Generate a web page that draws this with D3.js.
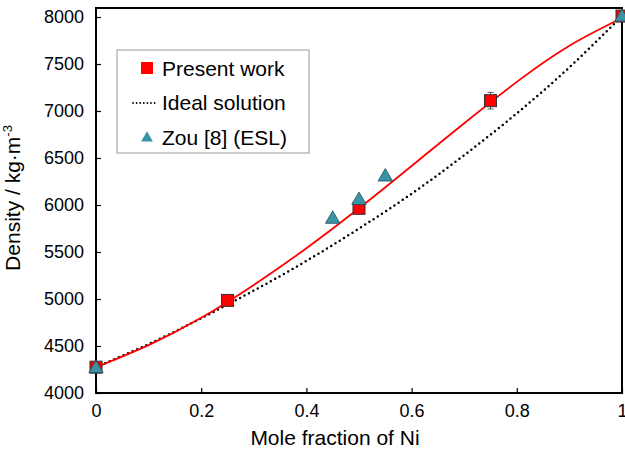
<!DOCTYPE html>
<meta charset="utf-8">
<script src="https://d3js.org/d3.v7.min.js"></script>
<style>
  body { margin: 0; background: #fff; }
  text { font-family: "Liberation Sans", Arial, sans-serif; }
</style>
<div id="my_dataviz"></div>
<script>

  // measured points (present work)
  var presentX = [0, 0.25, 0.5, 0.75, 1];
  var presentY = [4275, 4985, 5965, 7110, 8010];
  var presentErr = [20, 40, 60, 88, 40];

  // fitted curve through present work
  var fitX = [0, 0.1, 0.2, 0.3, 0.4, 0.5, 0.6, 0.7, 0.8, 0.9, 1];
  var fitY = [4275, 4510, 4800, 5150, 5540, 5965, 6415, 6870, 7310, 7695, 7990];

  // ideal solution (dotted)
  var idealX = [0, 0.1, 0.2, 0.3, 0.4, 0.5, 0.6, 0.7, 0.8, 0.9, 1];
  var idealY = [4275, 4520, 4795, 5090, 5405, 5750, 6120, 6530, 6975, 7465, 8010];

  // Zou [8] (ESL)
  var zouX = [0, 0.45, 0.5, 0.55, 1];
  var zouY = [4270, 5860, 6060, 6310, 8010];

  var xTicks = [0, 0.2, 0.4, 0.6, 0.8, 1];
  var yTicks = [4000, 4500, 5000, 5500, 6000, 6500, 7000, 7500, 8000];

  var W = 625, H = 450;
  var margin = { top: 8, right: 2, bottom: 57, left: 96 },
    width = W - margin.left - margin.right,
    height = H - margin.top - margin.bottom;

  var svg = d3.select("#my_dataviz")
    .append("svg")
    .attr("width", W)
    .attr("height", H);

  var g = svg.append("g")
    .attr("transform", "translate(" + margin.left + "," + margin.top + ")");

  var x = d3.scaleLinear().domain([0, 1]).range([0, 526]);
  // 8000 sits about 9px below the top of the frame
  var y = d3.scaleLinear().domain([4000, 8000]).range([height, height - 376]);

  // axes with inward ticks
  var xAxis = g.append("g")
    .attr("transform", "translate(0," + height + ")")
    .call(d3.axisBottom(x).tickValues(xTicks).tickSize(-5).tickPadding(11)
      .tickFormat(function (d) { return d === 0 || d === 1 ? String(d) : d3.format(".1f")(d); }));
  var yAxis = g.append("g")
    .call(d3.axisLeft(y).tickValues(yTicks).tickSize(-5).tickPadding(12)
      .tickFormat(d3.format("d")));

  [xAxis, yAxis].forEach(function (a) {
    a.attr("font-size", null).attr("font-family", null);
    a.select(".domain").remove();
    a.selectAll(".tick line").attr("stroke", "#000").attr("stroke-width", 1.2);
    a.selectAll("text").style("font-size", "18px").attr("fill", "#000");
  });

  // frame
  g.append("rect")
    .attr("x", 0).attr("y", 0)
    .attr("width", 526).attr("height", height)
    .attr("fill", "none").attr("stroke", "#000").attr("stroke-width", 2);

  // ideal solution line
  g.append("path")
    .datum(d3.zip(idealX, idealY))
    .attr("fill", "none")
    .attr("stroke", "#000")
    .attr("stroke-width", 2.5)
    .attr("stroke-dasharray", "0,5")
    .attr("stroke-linecap", "round")
    .attr("d", d3.line().curve(d3.curveNatural)
      .x(function (d) { return x(d[0]); })
      .y(function (d) { return y(d[1]); }));

  // fit line
  g.append("path")
    .datum(d3.zip(fitX, fitY))
    .attr("fill", "none")
    .attr("stroke", "#ff0000")
    .attr("stroke-width", 1.8)
    .attr("d", d3.line().curve(d3.curveNatural)
      .x(function (d) { return x(d[0]); })
      .y(function (d) { return y(d[1]); }));

  // error bars
  var pts = d3.zip(presentX, presentY, presentErr);
  var eb = g.append("g").selectAll("g").data(pts).enter().append("g")
    .attr("stroke", "#555").attr("stroke-width", 1);
  eb.append("line")
    .attr("x1", function (d) { return x(d[0]); })
    .attr("x2", function (d) { return x(d[0]); })
    .attr("y1", function (d) { return y(d[1] - d[2]); })
    .attr("y2", function (d) { return y(d[1] + d[2]); });
  eb.append("line")
    .attr("x1", function (d) { return x(d[0]) - 3; })
    .attr("x2", function (d) { return x(d[0]) + 3; })
    .attr("y1", function (d) { return y(d[1] - d[2]); })
    .attr("y2", function (d) { return y(d[1] - d[2]); });
  eb.append("line")
    .attr("x1", function (d) { return x(d[0]) - 3; })
    .attr("x2", function (d) { return x(d[0]) + 3; })
    .attr("y1", function (d) { return y(d[1] + d[2]); })
    .attr("y2", function (d) { return y(d[1] + d[2]); });

  // present work squares
  var sq = 12;
  g.append("g").selectAll("rect").data(pts).enter().append("rect")
    .attr("x", function (d) { return x(d[0]) - sq / 2; })
    .attr("y", function (d) { return y(d[1]) - sq / 2; })
    .attr("width", sq).attr("height", sq)
    .attr("fill", "#ff0000")
    .attr("stroke", "#333").attr("stroke-width", 1);

  // Zou triangles
  var tri = d3.symbol().type(d3.symbolTriangle).size(90);
  g.append("g").selectAll("path").data(d3.zip(zouX, zouY)).enter().append("path")
    .attr("d", tri)
    .attr("transform", function (d) { return "translate(" + x(d[0]) + "," + (y(d[1]) + 1) + ")"; })
    .attr("fill", "#3a93a6")
    .attr("stroke", "#1f4f5a").attr("stroke-width", 0.8);

  // legend
  var lg = svg.append("g").attr("transform", "translate(117,50)");
  lg.append("rect")
    .attr("width", 192).attr("height", 103)
    .attr("fill", "#fff").attr("stroke", "#999").attr("stroke-width", 1);
  lg.append("rect").attr("x", 24).attr("y", 12).attr("width", 12).attr("height", 12)
    .attr("fill", "#ff0000");
  lg.append("line").attr("x1", 16).attr("x2", 40).attr("y1", 53).attr("y2", 53)
    .attr("stroke", "#000").attr("stroke-width", 1.8)
    .attr("stroke-dasharray", "0,3.6").attr("stroke-linecap", "round");
  lg.append("path").attr("d", d3.symbol().type(d3.symbolTriangle).size(60))
    .attr("transform", "translate(30,88)")
    .attr("fill", "#3a93a6");
  var labels = ["Present work", "Ideal solution", "Zou [8] (ESL)"];
  lg.selectAll("text.lab").data(labels).enter().append("text")
    .attr("class", "lab")
    .attr("x", 45)
    .attr("y", function (d, i) { return 25.5 + i * 34.5; })
    .style("font-size", "21px")
    .attr("fill", "#000")
    .text(function (d) { return d; });

  // axis titles
  svg.append("text")
    .attr("x", 335).attr("y", 445)
    .attr("text-anchor", "middle")
    .style("font-size", "21px")
    .text("Mole fraction of Ni");

  var yt = svg.append("text")
    .attr("transform", "translate(20,198) rotate(-90)")
    .attr("text-anchor", "middle")
    .style("font-size", "21px");
  yt.append("tspan").text("Density / kg·m");
  yt.append("tspan").attr("dy", -8).style("font-size", "13px").text("-3");

</script>
